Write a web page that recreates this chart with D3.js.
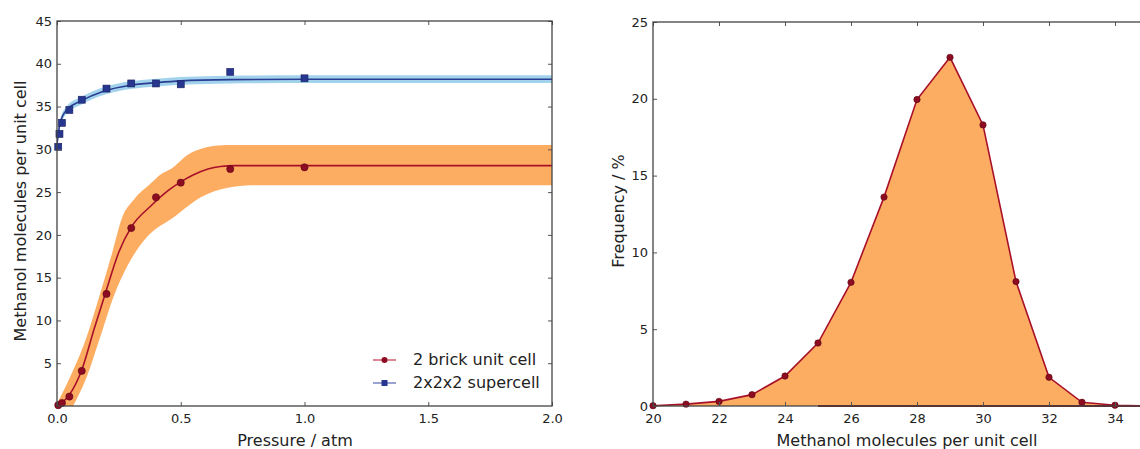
<!DOCTYPE html>
<html>
<head>
<meta charset="utf-8">
<script src="https://cdnjs.cloudflare.com/ajax/libs/d3/7.8.5/d3.min.js"></script>
<style>
  body { margin: 0; background: #fff; }
  text { font-family: "DejaVu Sans", sans-serif; fill: #222; }
</style>
</head>
<body>
<svg width="1140" height="449"></svg>
<script>
// --- left panel: isotherm ---
var brickP    = [0.005, 0.02, 0.05, 0.1, 0.2, 0.3, 0.4, 0.5, 0.7, 1.0];
var brickN    = [0.1, 0.35, 1.1, 4.1, 13.1, 20.8, 24.4, 26.1, 27.7, 27.9];
var superP    = [0.005, 0.01, 0.02, 0.05, 0.1, 0.2, 0.3, 0.4, 0.5, 0.7, 1.0];
var superN    = [30.3, 31.8, 33.1, 34.6, 35.8, 37.1, 37.7, 37.7, 37.6, 39.05, 38.3];

// fitted curves
var brickFitP = [0, 0.05, 0.1, 0.15, 0.2, 0.25, 0.3, 0.38, 0.45, 0.5, 0.55, 0.61, 0.66, 0.72, 1.0, 2.0];
var brickFitN = [0, 1.3, 4.2, 9.0, 13.6, 18.0, 20.9, 23.4, 25.2, 26.2, 27.0, 27.7, 28.0, 28.1, 28.1, 28.1];
var brickUpP  = [0, 0.053, 0.12, 0.175, 0.222, 0.263, 0.31, 0.378, 0.42, 0.46, 0.53, 0.6, 0.65, 0.72, 1.0, 2.0];
var brickUpN  = [0.3, 3.4, 8.1, 13.2, 17.8, 22.0, 24.1, 26.0, 27.1, 27.7, 29.4, 30.2, 30.45, 30.5, 30.5, 30.5];
var brickLoP  = [0.065, 0.12, 0.175, 0.229, 0.283, 0.365, 0.473, 0.581, 0.69, 0.785, 1.0, 2.0];
var brickLoN  = [0, 3.4, 8.1, 12.8, 16.3, 19.8, 22.1, 24.4, 25.5, 25.8, 25.8, 25.8];
var superFitP = [0, 0.012, 0.039, 0.093, 0.188, 0.297, 0.405, 0.5, 0.7, 1.0, 2.0];
var superFitN = [30.6, 33.0, 34.6, 35.6, 36.8, 37.5, 37.8, 38.0, 38.15, 38.2, 38.2];
var superBand = 0.45;

var leftXTicks = [0, 0.5, 1.0, 1.5, 2.0];
var leftYTicks = [5, 10, 15, 20, 25, 30, 35, 40, 45];

// --- right panel: distribution ---
var loading   = [20, 21, 22, 23, 24, 25, 26, 27, 28, 29, 30, 31, 32, 33, 34, 35, 36];
var frequency = [0.02, 0.12, 0.3, 0.74, 1.95, 4.1, 8.05, 13.6, 19.95, 22.7, 18.3, 8.1, 1.87, 0.24, 0.05, 0, 0];
var rightXTicks = [20, 22, 24, 26, 28, 30, 32, 34];
var rightYTicks = [0, 5, 10, 15, 20, 25];

var orange = '#fdad62', red = '#a8102a', redDot = '#8e0c22';
var blueLine = '#2a3e94', blueBandCol = '#a3d3ec', blueDot = '#27368f';

var svg = d3.select('svg');

function frame(g, x, y, xt, yt, xfmt, yfmt) {
  var x0 = x.range()[0], x1 = x.range()[1], y0 = y.range()[0], y1 = y.range()[1];
  var tl = 4;
  g.append('g').attr('transform', `translate(0,${y0})`)
    .call(d3.axisBottom(x).tickValues(xt).tickSize(-tl).tickPadding(8).tickFormat(xfmt))
    .call(a => a.select('.domain').remove());
  g.append('g').attr('transform', `translate(0,${y1})`)
    .call(d3.axisTop(x).tickValues(xt).tickSize(-tl).tickFormat(''))
    .call(a => a.select('.domain').remove());
  g.append('g').attr('transform', `translate(${x0},0)`)
    .call(d3.axisLeft(y).tickValues(yt).tickSize(-tl).tickPadding(5).tickFormat(yfmt))
    .call(a => a.select('.domain').remove());
  g.append('g').attr('transform', `translate(${x1},0)`)
    .call(d3.axisRight(y).tickValues(yt).tickSize(-tl).tickFormat(''))
    .call(a => a.select('.domain').remove());
  g.selectAll('.tick line').attr('stroke', '#555');
  g.selectAll('.tick text').style('font-size', '13px').attr('fill', '#222');
  g.append('rect').attr('x', x0).attr('y', y1).attr('width', x1 - x0).attr('height', y0 - y1)
    .attr('fill', 'none').attr('stroke', '#444').attr('stroke-width', 1.3);
}

// ===== left =====
var xL = d3.scaleLinear().domain([0, 2]).range([57, 552]);
var yL = d3.scaleLinear().domain([0, 45]).range([406, 21]);
var gL = svg.append('g');

gL.append('clipPath').attr('id', 'clipL').append('rect')
  .attr('x', 57).attr('y', 21).attr('width', 495).attr('height', 385);
var plotL = gL.append('g').attr('clip-path', 'url(#clipL)');

// orange uncertainty band
var upPts = brickUpP.map((p, i) => [xL(p), yL(brickUpN[i])]);
var loPts = brickLoP.map((p, i) => [xL(p), yL(brickLoN[i])]);
var lineGen = d3.line().curve(d3.curveMonotoneX);
var bandPath = lineGen(upPts) + 'L' + lineGen(loPts.slice().reverse()).slice(1) +
  `L${xL(0)},${yL(0)}Z`;
plotL.append('path').attr('d', bandPath).attr('fill', orange);

// blue band
plotL.append('path')
  .datum(superFitP.map((p, i) => [p, superFitN[i]]))
  .attr('d', d3.area().curve(d3.curveMonotoneX)
    .x(d => xL(d[0])).y0(d => yL(d[1] - superBand)).y1(d => yL(d[1] + superBand)))
  .attr('fill', blueBandCol);

plotL.append('path')
  .datum(brickFitP.map((p, i) => [p, brickFitN[i]]))
  .attr('d', d3.line().curve(d3.curveMonotoneX).x(d => xL(d[0])).y(d => yL(d[1])))
  .attr('fill', 'none').attr('stroke', red).attr('stroke-width', 1.6);
plotL.append('path')
  .datum(superFitP.map((p, i) => [p, superFitN[i]]))
  .attr('d', d3.line().curve(d3.curveMonotoneX).x(d => xL(d[0])).y(d => yL(d[1])))
  .attr('fill', 'none').attr('stroke', blueLine).attr('stroke-width', 1.6);

gL.selectAll('.bdot').data(brickP).enter().append('circle')
  .attr('cx', d => xL(d)).attr('cy', (d, i) => yL(brickN[i])).attr('r', 3.6)
  .attr('fill', redDot).attr('stroke', '#5a0614').attr('stroke-width', 0.6);
gL.selectAll('.sdot').data(superP).enter().append('rect')
  .attr('x', d => xL(d) - 3.5).attr('y', (d, i) => yL(superN[i]) - 3.5)
  .attr('width', 7).attr('height', 7)
  .attr('fill', blueDot).attr('stroke', '#1a2160').attr('stroke-width', 0.6);

frame(gL, xL, yL, leftXTicks, leftYTicks, d3.format('.1f'), d3.format('d'));

// legend
var leg = gL.append('g').attr('transform', 'translate(373,360)');
leg.append('line').attr('x1', 0).attr('x2', 23).attr('stroke', '#c8344c').attr('stroke-width', 1.2);
leg.append('circle').attr('cx', 11.5).attr('r', 3).attr('fill', redDot);
leg.append('text').attr('x', 40).attr('y', 5).style('font-size', '16px').text('2 brick unit cell');
leg.append('line').attr('x1', 0).attr('x2', 23).attr('y1', 23).attr('y2', 23).attr('stroke', '#5864b0').attr('stroke-width', 1.2);
leg.append('rect').attr('x', 8.5).attr('y', 20).attr('width', 6).attr('height', 6).attr('fill', blueDot);
leg.append('text').attr('x', 40).attr('y', 28).style('font-size', '16px').text('2x2x2 supercell');

gL.append('text').attr('x', 295).attr('y', 446).attr('text-anchor', 'middle')
  .style('font-size', '16px').text('Pressure / atm');
gL.append('text').attr('transform', 'translate(26,211) rotate(-90)').attr('text-anchor', 'middle')
  .style('font-size', '16px').text('Methanol molecules per unit cell');

// ===== right =====
var xR = d3.scaleLinear().domain([20, 36]).range([653, 1181]);
var yR = d3.scaleLinear().domain([0, 25]).range([406, 22]);
var gR = svg.append('g');

var pts = loading.map((l, i) => [l, frequency[i]]);
gR.append('path').datum(pts)
  .attr('d', d3.area().x(d => xR(d[0])).y0(yR(0)).y1(d => yR(d[1])))
  .attr('fill', orange);
gR.append('line').attr('x1', xR(25)).attr('x2', xR(36)).attr('y1', yR(0)).attr('y2', yR(0))
  .attr('stroke', '#7a1a22').attr('stroke-width', 2);
gR.append('path').datum(pts)
  .attr('d', d3.line().x(d => xR(d[0])).y(d => yR(d[1])))
  .attr('fill', 'none').attr('stroke', red).attr('stroke-width', 1.6);
gR.selectAll('.fdot').data(pts.filter(d => d[0] <= 34)).enter().append('circle')
  .attr('cx', d => xR(d[0])).attr('cy', d => yR(d[1])).attr('r', 3.2)
  .attr('fill', redDot).attr('stroke', '#5a0614').attr('stroke-width', 0.6);

frame(gR, xR, yR, rightXTicks, rightYTicks, d3.format('d'), d3.format('d'));

gR.append('text').attr('x', 907).attr('y', 446).attr('text-anchor', 'middle')
  .style('font-size', '16px').text('Methanol molecules per unit cell');
gR.append('text').attr('transform', 'translate(624,211) rotate(-90)').attr('text-anchor', 'middle')
  .style('font-size', '16px').text('Frequency / %');
</script>
</body>
</html>
